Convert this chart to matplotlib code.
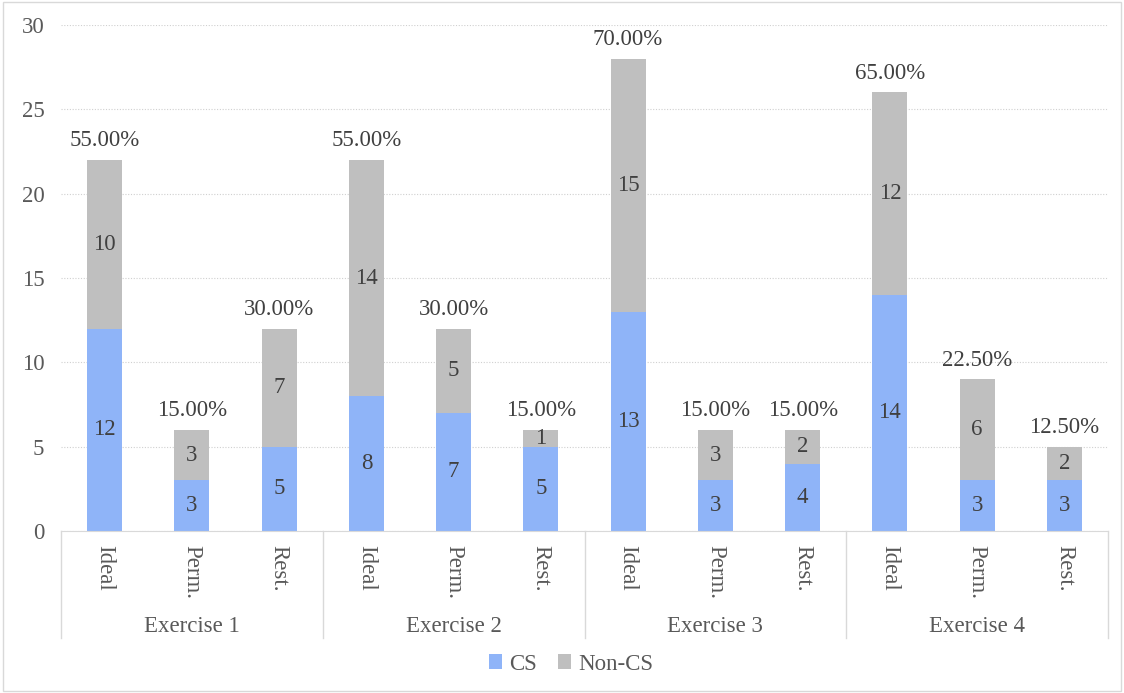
import matplotlib.pyplot as plt
from matplotlib.patches import Rectangle
import numpy as np

plt.rcParams['font.family'] = ['Liberation Serif', 'DejaVu Serif']

# data
exercises = ['Exercise 1', 'Exercise 2', 'Exercise 3', 'Exercise 4']
kinds = ['Ideal', 'Perm.', 'Rest.']
cs = [12, 3, 5, 8, 7, 5, 13, 3, 4, 14, 3, 3]
non_cs = [10, 3, 7, 14, 5, 1, 15, 3, 2, 12, 6, 2]
pct = [55.0, 15.0, 30.0, 55.0, 30.0, 15.0, 70.0, 15.0, 15.0, 65.0, 22.5, 12.5]

blue = '#8fb4f8'
grey = '#bfbfbf'
txt = '#404040'
axcol = '#595959'
fs = 16.5

fig = plt.figure(figsize=(11.24, 6.93), dpi=100)
ax = fig.add_axes([61/1124, (693-531)/693, (1108-61)/1124, (531-25)/693])

x = np.arange(len(cs))
ax.bar(x, cs, width=0.4, color=blue, label='CS', zorder=2)
ax.bar(x, non_cs, width=0.4, bottom=cs, color=grey, label='Non-CS', zorder=2)

for i in range(len(cs)):
    ax.text(x[i], cs[i]/2, str(cs[i]), ha='center', va='center', fontsize=fs, color=txt, zorder=3)
    ax.text(x[i], cs[i] + non_cs[i]/2, str(non_cs[i]), ha='center', va='center', fontsize=fs, color=txt, zorder=3)
    ax.text(x[i], cs[i] + non_cs[i] + 0.5, '%.2f%%' % pct[i], ha='center', va='bottom', fontsize=fs, color=txt, zorder=3)

ax.set_xlim(-0.5, len(cs) - 0.5)
ax.set_ylim(0, 30)
ax.set_yticks(range(0, 31, 5))
ax.yaxis.grid(True, linestyle=(0, (1, 1.5)), color='#d0d0d0', linewidth=0.8)
ax.set_axisbelow(True)
for s in ['top', 'right', 'left']:
    ax.spines[s].set_visible(False)
ax.spines['bottom'].set_color('#d9d9d9')
ax.tick_params(axis='y', length=0, labelsize=fs, labelcolor=axcol, pad=12)
ax.tick_params(axis='x', length=0, labelsize=fs, labelcolor=axcol, pad=10)
ax.set_xticks(x)
ax.set_xticklabels(kinds * len(exercises), rotation=270, va='top')

# group labels and separators
trans = ax.get_xaxis_transform()
for g in range(len(exercises) + 1):
    ax.plot([g*3 - 0.5, g*3 - 0.5], [0, -0.2115], transform=trans, color='#d9d9d9',
            linewidth=1, clip_on=False)
for g, name in enumerate(exercises):
    ax.text(g*3 + 1, -0.188, name, transform=trans, ha='center', va='center',
            fontsize=fs, color=axcol)

leg = fig.legend(loc='center', bbox_to_anchor=(571/1124, 1 - 664/693), ncol=2, frameon=False,
                 fontsize=fs, handlelength=0.6, handleheight=0.6, handletextpad=0.3,
                 columnspacing=0.9, labelcolor=axcol)

fig.patches.append(Rectangle((3/1124, 2/693), 1118/1124, 689/693, transform=fig.transFigure,
                             fill=False, edgecolor='#d9d9d9', linewidth=1))

fig.savefig('out.png', dpi=100)
